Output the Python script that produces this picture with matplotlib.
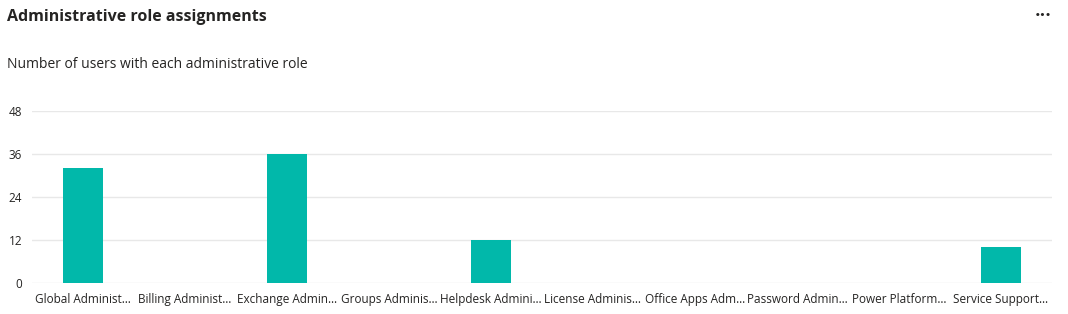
import matplotlib.pyplot as plt

plt.rcParams['font.family'] = ['Open Sans', 'DejaVu Sans']

roles = ["Global Administ…", "Billing Administ…", "Exchange Admin…", "Groups Adminis…",
         "Helpdesk Admini…", "License Adminis…", "Office Apps Adm…", "Password Admin…",
         "Power Platform…", "Service Support…"]
users = [32, 0, 36, 0, 12, 0, 0, 0, 0, 10]
yticks = [0, 12, 24, 36, 48]

fig = plt.figure(figsize=(10.68, 3.14), dpi=100)
ax = fig.add_axes([32 / 1068, 31 / 314, 1020 / 1068, 172 / 314])

x = range(len(roles))
ax.bar(x, users, width=0.4, color='#01B8AA', zorder=3)

ax.set_xlim(-0.5, len(roles) - 0.5)
ax.set_ylim(0, 48)
ax.set_yticks(yticks)
ax.set_xticks(list(x))
ax.set_xticklabels(roles, fontsize=8.5, color='#252423')
ax.tick_params(axis='y', labelsize=8.5, labelcolor='#252423', length=0, pad=7)
ax.tick_params(axis='x', length=0, pad=7)
ax.grid(axis='y', color='#e8e8e8', linewidth=1, zorder=0)
for s in ax.spines.values():
    s.set_visible(False)

fig.text(7 / 1068, 1 - 17 / 314, "Administrative role assignments", fontsize=11.5,
         fontweight='bold', color='#252423', va='center', ha='left')
fig.text(7 / 1068, 1 - 64 / 314, "Number of users with each administrative role",
         fontsize=10, color='#252423', va='center', ha='left')
fig.text(1043 / 1068, 1 - 16 / 314, "•••", fontsize=6.5, fontweight='bold',
         color='#252423', va='center', ha='center', family='DejaVu Sans')

fig.savefig('out.png', dpi=100)
